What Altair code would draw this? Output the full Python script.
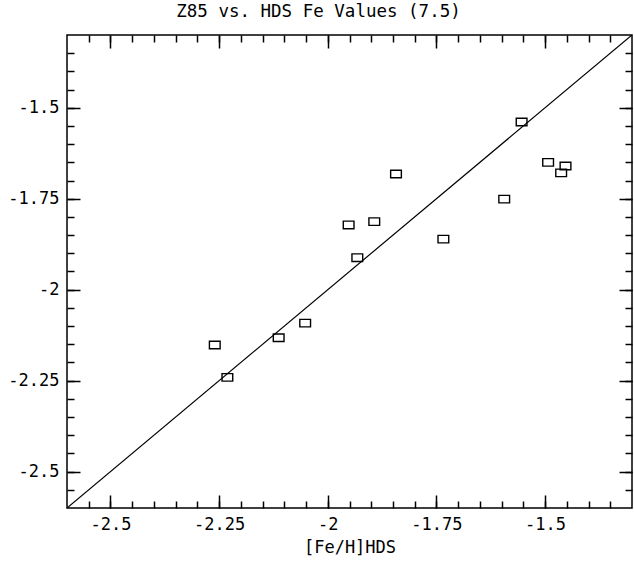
import altair as alt
import pandas as pd

# data
hds_fe = [-2.260, -2.231, -2.113, -2.052, -1.952, -1.932, -1.893, -1.843,
          -1.734, -1.594, -1.554, -1.493, -1.463, -1.453]
z85_fe = [-2.152, -2.241, -2.132, -2.092, -1.822, -1.912, -1.813, -1.682,
          -1.861, -1.751, -1.539, -1.650, -1.679, -1.660]
line_vals = [-2.6, -1.3]
major_ticks = [-2.5, -2.25, -2.0, -1.75, -1.5]
minor_ticks = [-2.55, -2.5, -2.45, -2.4, -2.35, -2.3, -2.25, -2.2, -2.15, -2.1,
               -2.05, -2.0, -1.95, -1.9, -1.85, -1.8, -1.75, -1.7, -1.65, -1.6,
               -1.55, -1.5, -1.45, -1.4, -1.35]
domain = [-2.6, -1.3]

pts = pd.DataFrame({"x": hds_fe, "y": z85_fe})
ln = pd.DataFrame({"x": line_vals, "y": line_vals})

FONT = "DejaVu Sans Mono"
MAJ = 13
MIN = 7


def ax(orient, values, size, labels, title=None):
    kw = dict(orient=orient, values=values, tickSize=size, offset=-size,
              domain=False, grid=False, labels=labels, tickColor="black",
              tickWidth=1.5, labelFont=FONT, labelFontSize=17,
              labelColor="black", labelPadding=8, labelFlush=False,
              labelExpr="replace(format(datum.value, ''), '−', '-')")
    if title:
        kw.update(title=title, titleFont=FONT, titleFontSize=17,
                  titleFontWeight="normal", titleColor="black", titlePadding=7)
    else:
        kw.update(title=None)
    return alt.Axis(**kw)


xs = lambda: alt.Scale(domain=domain, nice=False, zero=False)
ys = lambda: alt.Scale(domain=domain, nice=False, zero=False)

square = "M-1,-0.7L1,-0.7L1,0.7L-1,0.7Z"

points = alt.Chart(pts).mark_point(
    shape=square, size=115, filled=False, color="black", strokeWidth=1.4,
    opacity=1
).encode(
    x=alt.X("x:Q", scale=xs(), axis=ax("bottom", major_ticks, MAJ, True, "[Fe/H]HDS")),
    y=alt.Y("y:Q", scale=ys(), axis=ax("left", major_ticks, MAJ, True)),
)

line = alt.Chart(ln).mark_line(color="black", strokeWidth=1.2, clip=True).encode(
    x=alt.X("x:Q", scale=xs(), axis=ax("bottom", minor_ticks, MIN, False)),
    y=alt.Y("y:Q", scale=ys(), axis=ax("left", minor_ticks, MIN, False)),
)

top_major = alt.Chart(ln).mark_point(opacity=0).encode(
    x=alt.X("x:Q", scale=xs(), axis=ax("top", major_ticks, MAJ, False)),
    y=alt.Y("y:Q", scale=ys(), axis=ax("right", major_ticks, MAJ, False)),
)

top_minor = alt.Chart(ln).mark_point(opacity=0).encode(
    x=alt.X("x:Q", scale=xs(), axis=ax("top", minor_ticks, MIN, False)),
    y=alt.Y("y:Q", scale=ys(), axis=ax("right", minor_ticks, MIN, False)),
)

chart = alt.layer(line, points, top_major, top_minor).resolve_axis(
    x="independent", y="independent"
).properties(
    width=565,
    height=473,
    autosize=alt.AutoSizeParams(type="none"),
    padding={"left": 67, "top": 35, "right": 2, "bottom": 56},
    background="white",
    title=alt.TitleParams("Z85 vs. HDS Fe Values (7.5)", font=FONT, fontSize=17.5,
                          fontWeight="normal", color="black", offset=12, dx=-31),
).configure_view(stroke="black", strokeWidth=1.5)

chart.save("out.html", embed_options={"renderer": "svg", "actions": False})
